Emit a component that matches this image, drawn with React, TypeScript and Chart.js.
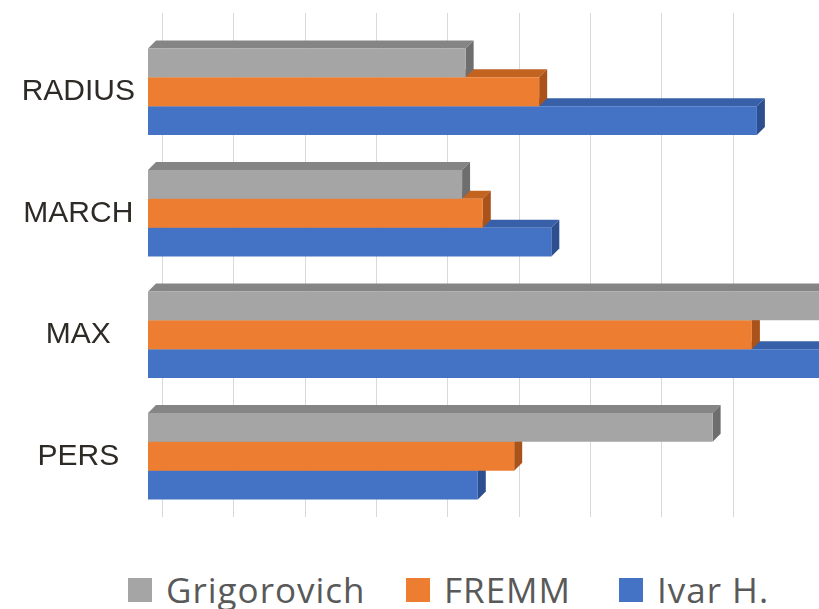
import React, { useEffect, useRef } from "react";
import { Chart, registerables } from "chart.js";

Chart.register(...registerables);

const categories = ["RADIUS", "MARCH", "MAX", "PERS"];
const seriesNames = ["Grigorovich", "FREMM", "Ivar H."];
const grigorovich = [4.25, 4.2, 9.5, 7.71];
const fremm = [5.28, 4.49, 8.26, 4.93];
const ivar = [8.33, 5.45, 9.5, 4.42];
const seriesValues = [grigorovich, fremm, ivar];
const gridTicks = [0, 1, 2, 3, 4, 5, 6, 7, 8];

const frontColors = ["#a5a5a5", "#ed7d31", "#4472c4"];
const topColors = ["#858585", "#c2631f", "#3860a8"];
const sideColors = ["#6e6e6e", "#a9531a", "#2d4f8f"];
const legendLefts = [128, 406, 619];

const DEPTH = 8;

const bar3d = {
  id: "bar3d",
  beforeDatasetDraw(chart: any, args: any) {
    const i = args.index;
    const ctx = chart.ctx;
    ctx.save();
    args.meta.data.forEach((el: any) => {
      const { x, y, base, height } = el.getProps(["x", "y", "base", "height"], true);
      const top = y - height / 2;
      const bot = y + height / 2;
      ctx.fillStyle = topColors[i];
      ctx.beginPath();
      ctx.moveTo(base, top);
      ctx.lineTo(base + DEPTH, top - DEPTH);
      ctx.lineTo(x + DEPTH, top - DEPTH);
      ctx.lineTo(x, top);
      ctx.closePath();
      ctx.fill();
      ctx.fillStyle = sideColors[i];
      ctx.beginPath();
      ctx.moveTo(x, top);
      ctx.lineTo(x + DEPTH, top - DEPTH);
      ctx.lineTo(x + DEPTH, bot - DEPTH);
      ctx.lineTo(x, bot);
      ctx.closePath();
      ctx.fill();
    });
    ctx.restore();
  },
};

export default function App() {
  const canvasRef = useRef<HTMLCanvasElement | null>(null);

  useEffect(() => {
    if (!canvasRef.current) return;
    const chart = new Chart(canvasRef.current, {
      type: "bar",
      data: {
        labels: categories,
        datasets: seriesNames.map((name, i) => ({
          label: name,
          data: seriesValues[i],
          backgroundColor: frontColors[i],
          borderWidth: 0,
          base: -0.2,
          barPercentage: 1,
          categoryPercentage: 0.71,
        })),
      },
      options: {
        indexAxis: "y",
        animation: false,
        responsive: false,
        maintainAspectRatio: false,
        layout: { padding: { top: 8, left: 0, right: 0, bottom: 0 } },
        plugins: {
          legend: { display: false },
          tooltip: { enabled: false },
        },
        scales: {
          x: {
            type: "linear",
            position: "top",
            min: -0.2,
            max: 9.2,
            afterBuildTicks: (scale: any) => {
              scale.ticks = gridTicks.map((v) => ({ value: v }));
            },
            ticks: { display: false },
            grid: {
              color: "#d9d9d9",
              lineWidth: 1,
              drawTicks: true,
              tickLength: 18,
            },
            border: { display: false },
          },
          y: {
            type: "category",
            afterFit: (scale: any) => {
              scale.width = 148;
            },
            ticks: {
              crossAlign: "center",
              padding: 13,
              color: "#2e2a26",
              font: { family: "'Liberation Sans', Arial, sans-serif", size: 30 },
            },
            grid: { display: false, drawTicks: false },
            border: { display: false },
          },
        },
      },
      plugins: [bar3d],
    } as any);
    return () => chart.destroy();
  }, []);

  return (
    <div style={{ position: "absolute", left: 0, top: 0, width: 819, height: 609, background: "#ffffff" }}>
      <canvas ref={canvasRef} width={819} height={548} style={{ display: "block" }} />
      {seriesNames.map((name, i) => (
        <div
          key={name}
          style={{ position: "absolute", left: legendLefts[i], top: 572, display: "flex", alignItems: "flex-start" }}
        >
          <div style={{ width: 24, height: 24, marginTop: 6, background: frontColors[i] }} />
          <span
            style={{
              marginLeft: 14,
              fontFamily: "'Open Sans', sans-serif",
              fontSize: 35,
              lineHeight: "35px",
              letterSpacing: 1,
              color: "#595959",
              whiteSpace: "nowrap",
            }}
          >
            {name}
          </span>
        </div>
      ))}
    </div>
  );
}
